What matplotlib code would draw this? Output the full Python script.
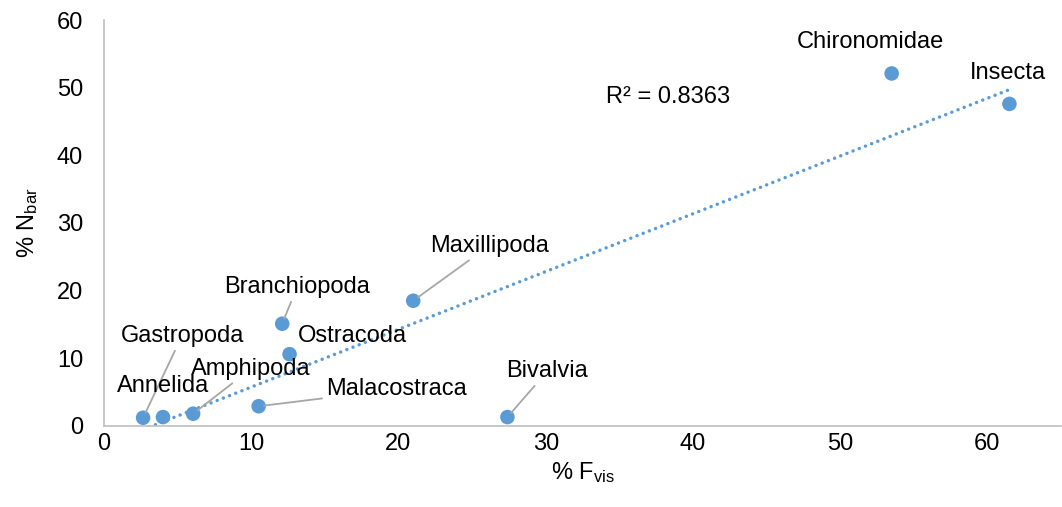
import matplotlib
matplotlib.use("Agg")
import matplotlib.pyplot as plt
import numpy as np

plt.rcParams['font.family'] = ['Liberation Sans', 'DejaVu Sans']
plt.rcParams['mathtext.fontset'] = 'custom'
plt.rcParams['mathtext.rm'] = 'Liberation Sans'
plt.rcParams['mathtext.default'] = 'regular'

# data
taxa = ['Gastropoda', 'Annelida', 'Amphipoda', 'Malacostraca', 'Ostracoda',
        'Branchiopoda', 'Maxillipoda', 'Bivalvia', 'Chironomidae', 'Insecta']
f_vis = [2.65, 4.0, 6.05, 10.5, 12.6, 12.1, 21.0, 27.4, 53.5, 61.5]
n_bar = [1.2, 1.3, 1.8, 2.9, 10.6, 15.1, 18.5, 1.3, 52.1, 47.6]
r2_text = 'R² = 0.8363'

# label offsets in pixels (dx, dy) and whether a leader line is drawn
label_off = [(39, 82), (0, 31), (58, 45), (138, 17), (63, 18),
             (15, 37), (76, 55), (40, 46), (-21, 31), (-1, 31)]
leader = [True, False, True, True, False, True, True, True, False, False]

blue = '#5b9bd5'
grey = '#bfbfbf'
fs = 17

fig = plt.figure(figsize=(10.62, 5.07), dpi=100)
ax = fig.add_axes([0.098, 0.160, 0.901, 0.8005])

x = np.array(f_vis)
y = np.array(n_bar)

# linear trendline over the data range
slope, icpt = np.polyfit(x, y, 1)
xt = np.linspace(x.min(), x.max(), 200)
ax.plot(xt, slope * xt + icpt, color=blue, lw=2.5, ls=(0, (0.01, 1.9)),
        dash_capstyle='round', zorder=2)

ax.scatter(x, y, s=110, color=blue, zorder=3, edgecolors='none')

for name, xi, yi, off, ld in zip(taxa, f_vis, n_bar, label_off, leader):
    props = None
    if ld:
        props = dict(arrowstyle='-', color='#a6a6a6', lw=1.3,
                     shrinkA=1, shrinkB=4)
    ax.annotate(name, xy=(xi, yi), xytext=off, textcoords='offset pixels',
                ha='center', va='center', fontsize=fs, color='black',
                arrowprops=props, zorder=4)

ax.text(668, 507 - 97, r2_text, transform=None, ha='center', va='center',
        fontsize=fs)

ax.set_xlim(0, 65)
ax.set_ylim(0, 60)
ax.set_xticks(np.arange(0, 61, 10))
ax.set_yticks(np.arange(0, 61, 10))
ax.tick_params(length=0, labelsize=fs, pad=5)
ax.tick_params(axis='y', pad=15)
for s in ['top', 'right']:
    ax.spines[s].set_visible(False)
for s in ['left', 'bottom']:
    ax.spines[s].set_color(grey)
    ax.spines[s].set_linewidth(1.2)

ax.set_xlabel('% F$_{vis}$', fontsize=fs, labelpad=4)
ax.set_ylabel('% N$_{bar}$', fontsize=fs, labelpad=12)

fig.savefig('out.png', dpi=100)
